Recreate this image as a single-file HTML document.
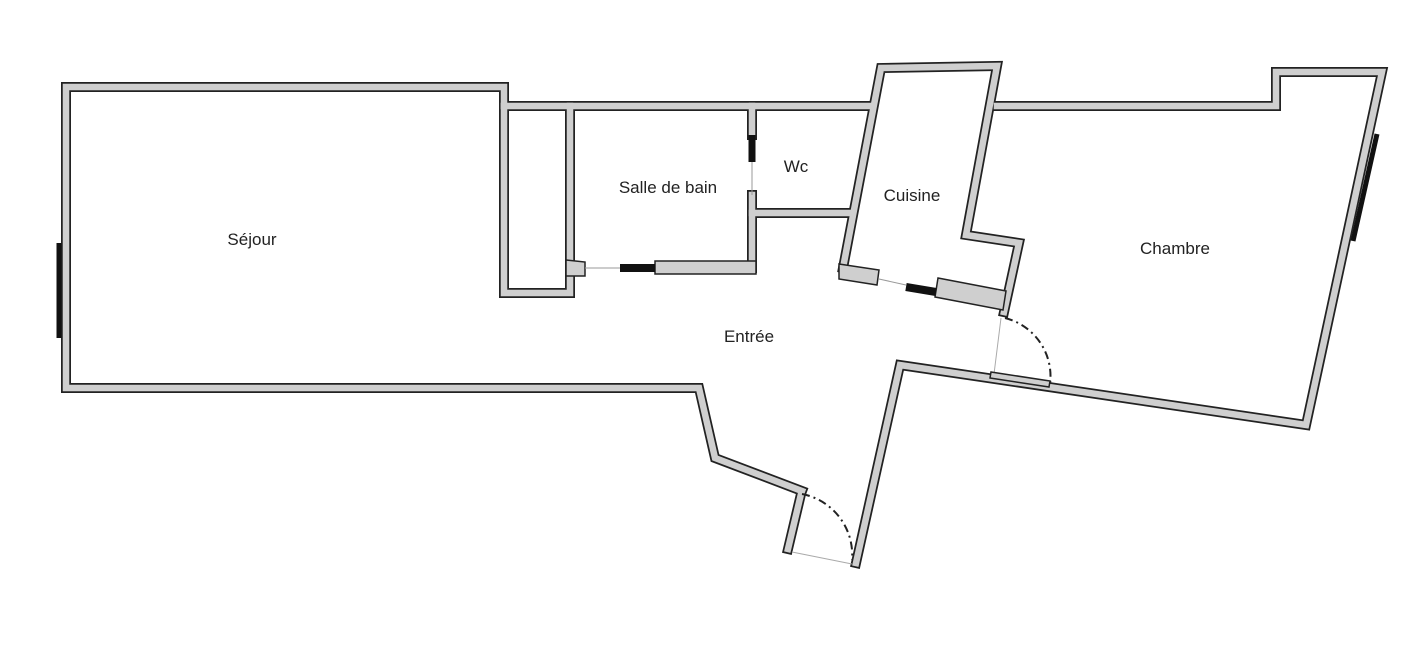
<!DOCTYPE html>
<html><head><meta charset="utf-8"><style>
html,body{margin:0;padding:0;background:#fff;}
svg{display:block;}
text{font-family:"Liberation Sans","DejaVu Sans",sans-serif;font-size:17px;fill:#222;}
.o{fill:none;stroke:#222;stroke-width:10;stroke-linejoin:miter;stroke-linecap:square;}
.i{fill:none;stroke:#cfcfcf;stroke-width:6.5;stroke-linejoin:miter;stroke-linecap:square;}
</style></head><body>
<svg width="1424" height="648" viewBox="0 0 1424 648" xmlns="http://www.w3.org/2000/svg">
<defs>
<g id="walls" fill="none">
<polyline points="504,106 504,87 66,87 66,388 699,388 715,458 802,491"/>
<line x1="801" y1="494" x2="788" y2="549"/>
<line x1="504" y1="106" x2="870" y2="106"/>
<polyline points="504,106 504,293 570,293 570,106"/>
<line x1="752" y1="106" x2="752" y2="135"/>
<line x1="752" y1="195" x2="752" y2="268"/>
<line x1="752" y1="213" x2="850" y2="213"/>
<polyline points="843,268 881,68 997,66 966,235 1019,243 1004,312"/>
<polyline points="997,106 1276,106 1276,72 1382,72 1306,425 900,365 856,563"/>
</g>
</defs>
<use href="#walls" class="o"/>
<use href="#walls" class="i"/>
<polygon points="655,261 756,261 756,274 655,274" fill="#cfcfcf" stroke="#222" stroke-width="1.5"/>
<polygon points="566,260 585,262 585,276 566,276" fill="#cfcfcf" stroke="#222" stroke-width="1.5"/>
<polygon points="839,264 879,270 877,285 839,279" fill="#cfcfcf" stroke="#222" stroke-width="1.5"/>
<polygon points="938,278 1006,291 1003,310 935,297" fill="#cfcfcf" stroke="#222" stroke-width="1.5"/>
<line x1="585" y1="268" x2="620" y2="268" stroke="#999" stroke-width="1"/>
<line x1="620" y1="268" x2="655" y2="268" stroke="#111" stroke-width="8"/>
<line x1="879" y1="279" x2="906" y2="285" stroke="#999" stroke-width="1"/>
<line x1="906" y1="287" x2="936" y2="292" stroke="#111" stroke-width="8"/>
<line x1="752" y1="135" x2="752" y2="162" stroke="#111" stroke-width="7"/>
<line x1="752" y1="162" x2="752" y2="195" stroke="#999" stroke-width="1"/>
<line x1="59" y1="243" x2="59" y2="338" stroke="#111" stroke-width="5"/>
<line x1="1377" y1="134" x2="1353" y2="241" stroke="#111" stroke-width="5"/>
<line x1="792" y1="552" x2="852" y2="564" stroke="#aaa" stroke-width="1"/>
<path d="M802,494 A62,62 0 0 1 852,560" fill="none" stroke="#222" stroke-width="2" stroke-dasharray="8,4,2,4"/>
<line x1="1001" y1="318" x2="994" y2="374" stroke="#aaa" stroke-width="1"/>
<path d="M1005,318 A60,60 0 0 1 1050,384" fill="none" stroke="#222" stroke-width="2" stroke-dasharray="8,4,2,4"/>
<polygon points="991,372 1050,381 1049,387 990,378" fill="#cfcfcf" stroke="#222" stroke-width="1.5"/>
<text x="252" y="245" text-anchor="middle">Séjour</text>
<text x="668" y="193" text-anchor="middle">Salle de bain</text>
<text x="796" y="172" text-anchor="middle">Wc</text>
<text x="912" y="201" text-anchor="middle">Cuisine</text>
<text x="1175" y="254" text-anchor="middle">Chambre</text>
<text x="749" y="342" text-anchor="middle">Entrée</text>
</svg>
</body></html>
